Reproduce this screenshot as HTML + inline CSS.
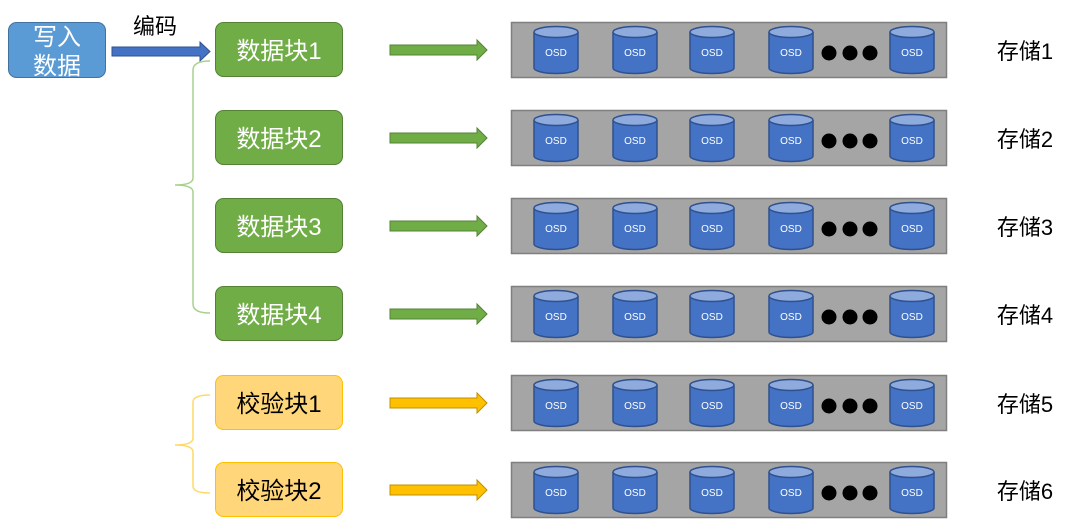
<!DOCTYPE html>
<html><head><meta charset="utf-8"><style>
html,body{margin:0;padding:0;background:#fff;width:1080px;height:529px;overflow:hidden}
svg{display:block;font-family:"Liberation Sans","Noto Sans CJK SC",sans-serif}
</style></head><body>
<svg width="1080" height="529" viewBox="0 0 1080 529" xmlns="http://www.w3.org/2000/svg">
<defs>
<g id="cyl">
  <path d="M0,6 L0,42 A22,5.5 0 0 0 44,42 L44,6" fill="#4472C4" stroke="#2F528F" stroke-width="1.5"/>
  <ellipse cx="22" cy="6" rx="22" ry="5.5" fill="#8FAADC" stroke="#2F528F" stroke-width="1.5"/>
  <text x="22" y="30" font-size="10" fill="#fff" text-anchor="middle">OSD</text>
</g>
<g id="panel">
  <rect x="511.5" y="0.5" width="435" height="55" fill="#A5A5A5" stroke="#7F7F7F" stroke-width="1.5"/>
  <use href="#cyl" x="534" y="4"/>
  <use href="#cyl" x="613" y="4"/>
  <use href="#cyl" x="690" y="4"/>
  <use href="#cyl" x="769" y="4"/>
  <use href="#cyl" x="890" y="4"/>
  <circle cx="829" cy="31" r="7.5" fill="#000"/>
  <circle cx="850" cy="31" r="7.5" fill="#000"/>
  <circle cx="870" cy="31" r="7.5" fill="#000"/>
</g>
<path id="garr" d="M390,23 L477,23 L477,18 L487,28 L477,38 L477,33 L390,33 Z" fill="#70AD47" stroke="#548235" stroke-width="1"/>
<path id="yarr" d="M390,23 L477,23 L477,18 L487,28 L477,38 L477,33 L390,33 Z" fill="#FFC000" stroke="#BF9000" stroke-width="1"/>
</defs>

<rect x="8.5" y="22.5" width="97" height="55" rx="8" fill="#5B9BD5" stroke="#41719C" stroke-width="1"/>
<text x="57" y="45" font-size="24" fill="#fff" text-anchor="middle">写入</text>
<text x="57" y="74" font-size="24" fill="#fff" text-anchor="middle">数据</text>
<path d="M112,47 L200,47 L200,42 L210,51.5 L200,61 L200,56 L112,56 Z" fill="#4472C4" stroke="#2F528F" stroke-width="1"/>
<text x="155" y="34" font-size="22" fill="#000" text-anchor="middle">编码</text>

<path d="M210,61 Q193,61 193,70 L193,178 Q193,185 175,185 Q193,185 193,192 L193,304 Q193,313 210,313" fill="none" stroke="#A9D18E" stroke-width="1.5"/>
<path d="M210,395 Q193,395 193,402 L193,438 Q193,445 175,445 Q193,445 193,452 L193,486 Q193,493 210,493" fill="none" stroke="#FFD966" stroke-width="1.5"/>

<g transform="translate(0,22)">
<rect x="215.5" y="0.5" width="127" height="54" rx="8" fill="#70AD47" stroke="#548235"/>
<text x="279" y="37" font-size="24" fill="#fff" text-anchor="middle">数据块1</text>
<use href="#garr"/><use href="#panel"/>
<text x="1025" y="37" font-size="22" fill="#000" text-anchor="middle">存储1</text>
</g>
<g transform="translate(0,110)">
<rect x="215.5" y="0.5" width="127" height="54" rx="8" fill="#70AD47" stroke="#548235"/>
<text x="279" y="37" font-size="24" fill="#fff" text-anchor="middle">数据块2</text>
<use href="#garr"/><use href="#panel"/>
<text x="1025" y="37" font-size="22" fill="#000" text-anchor="middle">存储2</text>
</g>
<g transform="translate(0,198)">
<rect x="215.5" y="0.5" width="127" height="54" rx="8" fill="#70AD47" stroke="#548235"/>
<text x="279" y="37" font-size="24" fill="#fff" text-anchor="middle">数据块3</text>
<use href="#garr"/><use href="#panel"/>
<text x="1025" y="37" font-size="22" fill="#000" text-anchor="middle">存储3</text>
</g>
<g transform="translate(0,286)">
<rect x="215.5" y="0.5" width="127" height="54" rx="8" fill="#70AD47" stroke="#548235"/>
<text x="279" y="37" font-size="24" fill="#fff" text-anchor="middle">数据块4</text>
<use href="#garr"/><use href="#panel"/>
<text x="1025" y="37" font-size="22" fill="#000" text-anchor="middle">存储4</text>
</g>
<g transform="translate(0,375)">
<rect x="215.5" y="0.5" width="127" height="54" rx="8" fill="#FFD77A" stroke="#FFC000"/>
<text x="279" y="37" font-size="24" fill="#000" text-anchor="middle">校验块1</text>
<use href="#yarr"/><use href="#panel"/>
<text x="1025" y="37" font-size="22" fill="#000" text-anchor="middle">存储5</text>
</g>
<g transform="translate(0,462)">
<rect x="215.5" y="0.5" width="127" height="54" rx="8" fill="#FFD77A" stroke="#FFC000"/>
<text x="279" y="37" font-size="24" fill="#000" text-anchor="middle">校验块2</text>
<use href="#yarr"/><use href="#panel"/>
<text x="1025" y="37" font-size="22" fill="#000" text-anchor="middle">存储6</text>
</g>
</svg>
</body></html>
